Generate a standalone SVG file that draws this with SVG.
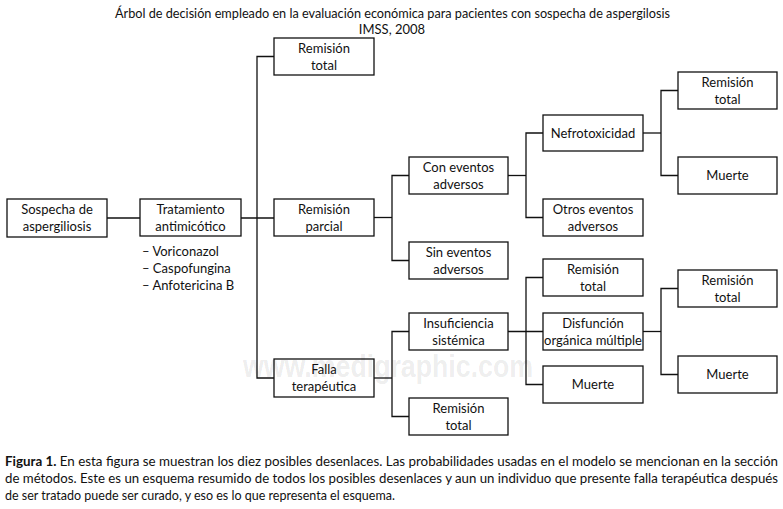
<svg xmlns="http://www.w3.org/2000/svg" width="783" height="509" viewBox="0 0 783 509">
<style>
text{font-family:Lato,"Open Sans","Liberation Sans",sans-serif;fill:#111;}
.b rect{fill:#fff;stroke:#111;stroke-width:1.3;}
.b text{font-size:13px;text-anchor:middle;}
#conn{fill:none;stroke:#111;stroke-width:1.3;}
.t{font-size:13px;}
.cap{font-size:12.5px;}
.wm{font-family:"Liberation Sans",Arial,sans-serif;font-weight:bold;font-size:31px;fill:#000;fill-opacity:0.085;}
</style>
<rect width="783" height="509" fill="#fff"/>
<text class="t" x="115" y="18" textLength="555" lengthAdjust="spacingAndGlyphs">Árbol de decisión empleado en la evaluación económica para pacientes con sospecha de aspergilosis</text>
<text class="t" x="392" y="34" text-anchor="middle">IMSS, 2008</text>
<g id="conn">
<path d="M107,218H140"/>
<path d="M241,218H274"/>
<path d="M274,56.5H257V378H274"/>
<path d="M374,217.5H392"/>
<path d="M409,175.5H392V260.5H409"/>
<path d="M508,175.5H526"/>
<path d="M543,133H526V217.5H543"/>
<path d="M643,133H661"/>
<path d="M678,90.5H661V175.5H678"/>
<path d="M374,378H392"/>
<path d="M409,331.5H392V416.5H409"/>
<path d="M508,331.5H543"/>
<path d="M543,277.5H526V384.5H543"/>
<path d="M643,331.5H661"/>
<path d="M678,288.5H661V374.5H678"/>
</g>
<g id="n_sospecha" class="b"><rect x="7" y="199" width="100" height="38"/><text x="57" y="214">Sospecha de</text><text x="57" y="231">aspergiliosis</text></g>
<g id="n_tratamiento" class="b"><rect x="140" y="199" width="101" height="37"/><text x="190.5" y="214">Tratamiento</text><text x="190.5" y="231">antimicótico</text></g>
<g id="n_farmacos"><text x="142" y="256" style="font-size:13px">– Voriconazol</text><text x="142" y="273" style="font-size:13px">– Caspofungina</text><text x="142" y="290" style="font-size:13px">– Anfotericina B</text></g>
<g id="n_rt1" class="b"><rect x="274" y="38" width="100" height="37"/><text x="324" y="53">Remisión</text><text x="324" y="70">total</text></g>
<g id="n_rparcial" class="b"><rect x="274" y="199" width="100" height="37"/><text x="324" y="214">Remisión</text><text x="324" y="231">parcial</text></g>
<g id="n_falla" class="b"><rect x="274" y="359" width="100" height="38"/><text x="324" y="374">Falla</text><text x="324" y="391">terapéutica</text></g>
<g id="n_con" class="b"><rect x="409" y="157" width="99" height="37"/><text x="458.5" y="172">Con eventos</text><text x="458.5" y="189">adversos</text></g>
<g id="n_sin" class="b"><rect x="409" y="242" width="99" height="37"/><text x="458.5" y="257">Sin eventos</text><text x="458.5" y="274">adversos</text></g>
<g id="n_insuf" class="b"><rect x="409" y="313" width="99" height="37"/><text x="458.5" y="328">Insuficiencia</text><text x="458.5" y="345">sistémica</text></g>
<g id="n_rt2" class="b"><rect x="409" y="398" width="99" height="37"/><text x="458.5" y="413">Remisión</text><text x="458.5" y="430">total</text></g>
<g id="n_nefro" class="b"><rect x="543" y="115" width="100" height="36"/><text x="593" y="137.5">Nefrotoxicidad</text></g>
<g id="n_otros" class="b"><rect x="543" y="199" width="100" height="37"/><text x="593" y="214">Otros eventos</text><text x="593" y="231">adversos</text></g>
<g id="n_rt3" class="b"><rect x="543" y="259" width="100" height="37"/><text x="593" y="274">Remisión</text><text x="593" y="291">total</text></g>
<g id="n_disf" class="b"><rect x="543" y="313" width="100" height="37"/><text x="593" y="328">Disfunción</text><text x="593" y="345">orgánica múltiple</text></g>
<g id="n_muerte1" class="b"><rect x="543" y="366" width="100" height="37"/><text x="593" y="389">Muerte</text></g>
<g id="n_rt4" class="b"><rect x="678" y="72" width="99" height="37"/><text x="727.5" y="87">Remisión</text><text x="727.5" y="104">total</text></g>
<g id="n_muerte2" class="b"><rect x="678" y="157" width="99" height="37"/><text x="727.5" y="180">Muerte</text></g>
<g id="n_rt5" class="b"><rect x="678" y="270" width="99" height="37"/><text x="727.5" y="285">Remisión</text><text x="727.5" y="302">total</text></g>
<g id="n_muerte3" class="b"><rect x="678" y="356" width="99" height="37"/><text x="727.5" y="379">Muerte</text></g>
<text class="wm" x="243" y="377" textLength="290" lengthAdjust="spacingAndGlyphs">www.medigraphic.com</text>
<text class="cap" x="5" y="466" textLength="773" lengthAdjust="spacingAndGlyphs"><tspan font-weight="bold">Figura 1.</tspan> En esta figura se muestran los diez posibles desenlaces. Las probabilidades usadas en el modelo se mencionan en la sección</text>
<text class="cap" x="5" y="483" textLength="773" lengthAdjust="spacingAndGlyphs">de métodos. Este es un esquema resumido de todos los posibles desenlaces y aun un individuo que presente falla terapéutica después</text>
<text class="cap" x="5" y="500">de ser tratado puede ser curado, y eso es lo que representa el esquema.</text>
</svg>
